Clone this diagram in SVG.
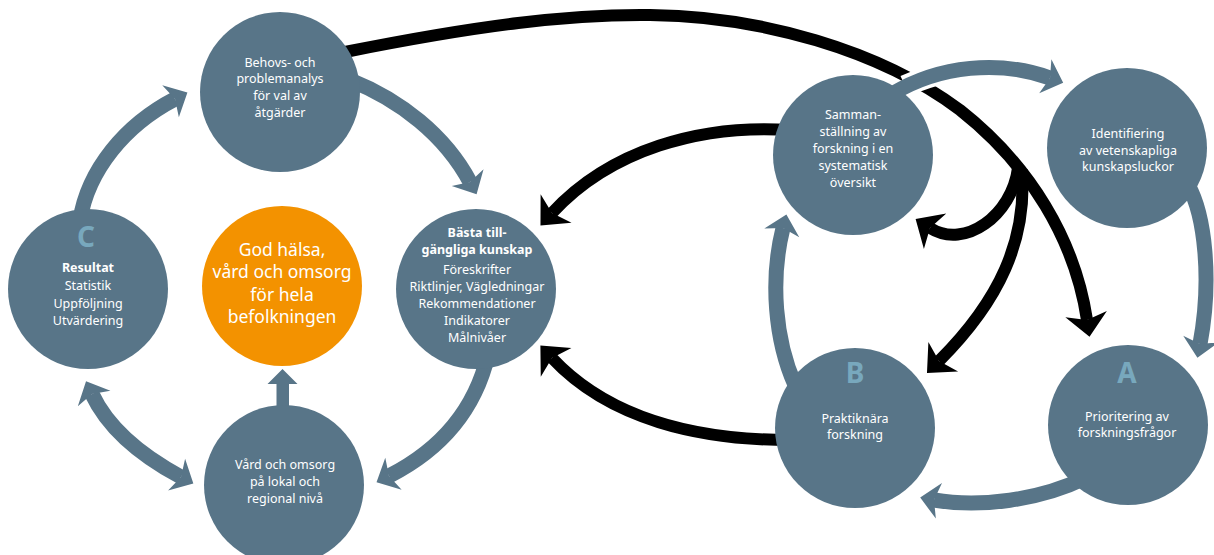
<svg xmlns="http://www.w3.org/2000/svg" width="1214" height="555" viewBox="0 0 1214 555">
<defs>
<style>
.node{fill:#587588}
.orange{fill:#f39200}
.t{font-family:"Noto Sans","Open Sans","Liberation Sans",sans-serif;fill:#ffffff;text-anchor:middle;font-size:12.5px}
.b{font-weight:bold}
.big{font-size:17.5px}
.letter{font-family:"Noto Sans","Liberation Sans",sans-serif;fill:#78a8bd;text-anchor:middle;font-size:28px;font-weight:bold}
.blk{fill:none;stroke:#000;stroke-width:12;marker-end:url(#ah-black)}
.blu{fill:none;stroke:#587588;stroke-width:15;marker-end:url(#ah-blue)}
.gap{fill:none;stroke:#ffffff;stroke-width:22}
</style>
<marker id="ah-black" markerUnits="userSpaceOnUse" viewBox="-7 -22 25 44" markerWidth="25" markerHeight="44" refX="0" refY="0" orient="auto" overflow="visible">
<path d="M-6,-21 L17,0 L-6,21 L0,0 Z" fill="#000"/>
</marker>
<marker id="ah-blue" markerUnits="userSpaceOnUse" viewBox="-6 -19 21 38" markerWidth="21" markerHeight="38" refX="0" refY="0" orient="auto-start-reverse" overflow="visible">
<path d="M-5,-18 L14,0 L-5,18 L0,0 Z" fill="#587588"/>
</marker>
</defs>
<rect width="1214" height="555" fill="#ffffff"/>
<g id="connectors">
<path class="blk" d="M345,52 C480,25 570,14 650,15 C760,16 880,50 960,110 C1030,165 1075,240 1087,320"/>
<path class="blk" d="M1018,168 C1012,215 965,250 930,228"/>
<path class="blk" d="M1022,170 C1027,240 1000,300 939,361"/>
<path class="blk" d="M790,130 C700,124 610,150 552,213"/>
<path class="blk" d="M790,440 C700,440 610,420 552,358"/>
<path class="gap" d="M905,86 C950,66 995,62 1040,74"/>
<path class="blu" d="M892,94 C940,65 1000,60 1050,78"/>
<path class="blu" d="M1188,185 C1205,215 1212,280 1200,344"/>
<path class="blu" d="M1085,478 C1040,500 980,508 934,500"/>
<path class="blu" d="M795,385 C775,340 770,280 783,228"/>
<path class="blu" d="M80,220 C88,170 125,125 175,99"/>
<path class="blu" d="M350,80 C400,100 445,135 470,182"/>
<path class="blu" d="M488,355 C475,410 440,450 389,476"/>
<path class="blu" d="M92,394 C108,428 140,455 181,477" style="marker-start:url(#ah-blue)"/>
<path d="M276.5,410 V384 H267.5 L282.5,369 L297.5,384 H289 V410 Z" fill="#587588"/>
</g>
<g id="node-behovs">
<circle class="node" cx="280" cy="92" r="80"/>
<text class="t"><tspan x="280" y="67">Behovs- och</tspan><tspan x="280" y="83">problemanalys</tspan><tspan x="280" y="100">för val av</tspan><tspan x="280" y="117">åtgärder</tspan></text>
</g>
<g id="node-resultat">
<circle class="node" cx="88" cy="289" r="80"/>
<text class="letter" x="86" y="247">C</text>
<text class="t"><tspan x="88" y="272" class="b">Resultat</tspan><tspan x="88" y="290">Statistik</tspan><tspan x="88" y="308">Uppföljning</tspan><tspan x="88" y="325">Utvärdering</tspan></text>
</g>
<g id="node-god-halsa">
<circle class="orange" cx="282" cy="286" r="80"/>
<text class="t big"><tspan x="282" y="256">God hälsa,</tspan><tspan x="282" y="278">vård och omsorg</tspan><tspan x="282" y="301">för hela</tspan><tspan x="282" y="323">befolkningen</tspan></text>
</g>
<g id="node-basta">
<circle class="node" cx="476" cy="289" r="80"/>
<text class="t"><tspan x="477" y="237" class="b">Bästa till-</tspan><tspan x="477" y="254" class="b">gängliga kunskap</tspan><tspan x="477" y="274">Föreskrifter</tspan><tspan x="477" y="291">Riktlinjer, Vägledningar</tspan><tspan x="477" y="308">Rekommendationer</tspan><tspan x="477" y="325">Indikatorer</tspan><tspan x="477" y="342">Målnivåer</tspan></text>
</g>
<g id="node-vard">
<circle class="node" cx="284" cy="485" r="80"/>
<text class="t"><tspan x="285" y="469">Vård och omsorg</tspan><tspan x="285" y="486">på lokal och</tspan><tspan x="285" y="503">regional nivå</tspan></text>
</g>
<g id="node-samman">
<circle class="node" cx="853" cy="155" r="80"/>
<text class="t"><tspan x="853" y="119">Samman-</tspan><tspan x="853" y="136">ställning av</tspan><tspan x="853" y="153">forskning i en</tspan><tspan x="853" y="170">systematisk</tspan><tspan x="853" y="187">översikt</tspan></text>
</g>
<g id="node-identifiering">
<circle class="node" cx="1127" cy="148" r="80"/>
<text class="t"><tspan x="1128" y="138">Identifiering</tspan><tspan x="1128" y="155">av vetenskapliga</tspan><tspan x="1128" y="171">kunskapsluckor</tspan></text>
</g>
<g id="node-b">
<circle class="node" cx="855" cy="428" r="80"/>
<text class="letter" x="855" y="383">B</text>
<text class="t"><tspan x="855" y="423">Praktiknära</tspan><tspan x="855" y="439">forskning</tspan></text>
</g>
<g id="node-a">
<circle class="node" cx="1128" cy="425" r="80"/>
<text class="letter" x="1127" y="383">A</text>
<text class="t"><tspan x="1127" y="421">Prioritering av</tspan><tspan x="1127" y="437">forskningsfrågor</tspan></text>
</g>
</svg>
